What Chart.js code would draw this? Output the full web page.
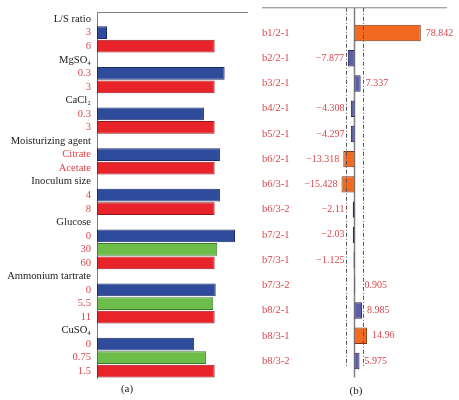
<!DOCTYPE html>
<html>
<head>
<meta charset="utf-8">
<script src="https://cdn.jsdelivr.net/npm/chart.js@4"></script>
<style>
  body { margin: 0; background: #fff; }
  #wrap { position: relative; width: 459px; height: 400px; font-family: 'Liberation Serif', serif; }
  #left { position: absolute; left: 0; top: 0; width: 250px; height: 400px; }
  #right { position: absolute; left: 250px; top: 0; width: 209px; height: 400px; }
  .cap { position: absolute; font-size: 11px; line-height: 12px; color: #222; transform: translateX(-50%); }
</style>
</head>
<body>
<div id="wrap">
  <div id="left"><canvas id="factorChart"></canvas></div>
  <div id="right"><canvas id="effectChart"></canvas></div>
  <div class="cap" style="left:127px; top:382px">(a)</div>
  <div class="cap" style="left:356px; top:384px">(b)</div>
</div>
<script>
// (a) relative response per factor level (red level = 100)
var factorNames = ['L/S ratio', 'MgSO₄', 'CaCl₂', 'Moisturizing agent', 'Inoculum size', 'Glucose', 'Ammonium tartrate', 'CuSO₄'];
var levelLabels = [['3', '6'], ['0.3', '3'], ['0.3', '3'], ['Citrate', 'Acetate'], ['4', '8'], ['0', '30', '60'], ['0', '5.5', '11'], ['0', '0.75', '1.5']];
var levelValues = [[8.5, 100], [108.5, 100], [90.9, 100], [104.5, 100], [104.5, 100], [117.3, 102.2, 100], [100.9, 98.8, 100], [82.6, 92.8, 100]];

// (b) effects
var effectLabels = ['b1/2-1', 'b2/2-1', 'b3/2-1', 'b4/2-1', 'b5/2-1', 'b6/2-1', 'b6/3-1', 'b6/3-2', 'b7/2-1', 'b7/3-1', 'b7/3-2', 'b8/2-1', 'b8/3-1', 'b8/3-2'];
var effectValues = [78.842, -7.877, 7.337, -4.308, -4.297, -13.318, -15.428, -2.11, -2.03, -1.125, 0.905, 8.985, 14.96, 5.975];
var significant = [true, false, false, false, false, true, true, false, false, false, false, false, true, false];
var threshold = 9.6;

var labelRed = '#d9474c';
var serif = 'Liberation Serif';
var levelFill = { low: '#2f4b9c', mid: '#6cbd4a', high: '#e8232a' };
var levelEdge = { low: '#1c2c63', mid: '#3f7a2e', high: '#8e1b1f' };

var rowLabels = [], rowValues = [], rowFill = [], rowEdge = [], rowHeading = [];
factorNames.forEach(function(name, f) {
  rowLabels.push(name);
  rowValues.push(null);
  rowFill.push('transparent');
  rowEdge.push('transparent');
  rowHeading.push(true);
  var n = levelLabels[f].length;
  levelLabels[f].forEach(function(lab, i) {
    var kind = i === 0 ? 'low' : (i === n - 1 ? 'high' : 'mid');
    rowLabels.push(lab);
    rowValues.push(levelValues[f][i]);
    rowFill.push(levelFill[kind]);
    rowEdge.push(levelEdge[kind]);
    rowHeading.push(false);
  });
});

new Chart(document.getElementById('factorChart'), {
  type: 'bar',
  data: {
    labels: rowLabels,
    datasets: [{
      data: rowValues,
      backgroundColor: rowFill,
      borderColor: rowEdge,
      borderWidth: 1,
      borderSkipped: false,
      barPercentage: 0.94,
      categoryPercentage: 1
    }]
  },
  options: {
    indexAxis: 'y',
    responsive: true,
    maintainAspectRatio: false,
    animation: false,
    layout: { padding: { top: 7, bottom: 22, right: 3, left: 0 } },
    plugins: { legend: { display: false }, tooltip: { enabled: false } },
    scales: {
      x: {
        position: 'top', min: 0, max: 127.5,
        grid: { display: false, drawTicks: false },
        ticks: { display: false },
        border: { color: '#808080', width: 1 },
        afterFit: function(s) { s.height = 0; }
      },
      y: {
        grid: { display: false, drawTicks: false },
        border: { color: '#808080', width: 1 },
        ticks: {
          autoSkip: false, padding: 6,
          color: function(c) { return rowHeading[c.index] ? '#1a1a1a' : labelRed; },
          font: { family: serif, size: 10.6 }
        },
        afterFit: function(s) { s.width = 97; }
      }
    }
  }
});

function fmt(v) {
  return (v < 0 ? '\u2212' : '') + Math.abs(v);
}

var effectLines = {
  id: 'effectLines',
  beforeDatasetsDraw: function(chart) {
    var ctx = chart.ctx, area = chart.chartArea, x = chart.scales.x, y = chart.scales.y;
    var top = y.getPixelForValue(-1);
    var x0 = x.getPixelForValue(0);
    ctx.save();
    ctx.strokeStyle = '#808080';
    ctx.lineWidth = 1;
    ctx.beginPath();
    ctx.moveTo(area.left, top);
    ctx.lineTo(area.right, top);
    ctx.stroke();
    ctx.lineWidth = 1.5;
    ctx.beginPath();
    ctx.moveTo(x0, top);
    ctx.lineTo(x0, area.bottom + 4);
    ctx.stroke();
    ctx.restore();
  },
  afterDatasetsDraw: function(chart) {
    var ctx = chart.ctx, area = chart.chartArea, x = chart.scales.x, y = chart.scales.y;
    var top = y.getPixelForValue(-1);
    var posLimit = x.getPixelForValue(threshold);
    var negLimit = x.getPixelForValue(-threshold);
    ctx.save();
    ctx.strokeStyle = '#555';
    ctx.lineWidth = 1;
    ctx.setLineDash([4, 2, 1, 2]);
    [negLimit, posLimit].forEach(function(px) {
      ctx.beginPath();
      ctx.moveTo(Math.round(px) + 0.5, top);
      ctx.lineTo(Math.round(px) + 0.5, area.bottom - 6);
      ctx.stroke();
    });
    ctx.setLineDash([]);
    ctx.font = '10px "' + serif + '"';
    ctx.fillStyle = labelRed;
    ctx.textBaseline = 'middle';
    chart.getDatasetMeta(0).data.forEach(function(bar, i) {
      var v = effectValues[i];
      if (v >= 0) {
        ctx.textAlign = 'left';
        ctx.fillText(fmt(v), Math.max(bar.x + 5, posLimit + 2), bar.y);
      } else {
        ctx.textAlign = 'right';
        ctx.fillText(fmt(v), Math.min(bar.x - 4, negLimit - 2), bar.y);
      }
    });
    ctx.restore();
  }
};

new Chart(document.getElementById('effectChart'), {
  type: 'bar',
  data: {
    labels: effectLabels,
    datasets: [{
      data: effectValues,
      backgroundColor: significant.map(function(s) { return s ? '#f26a22' : '#5b5ea8'; }),
      borderColor: significant.map(function(s) { return s ? '#7a3a1a' : '#2a2c5c'; }),
      borderWidth: 1,
      borderSkipped: false,
      barPercentage: 0.65,
      categoryPercentage: 1
    }]
  },
  options: {
    indexAxis: 'y',
    responsive: true,
    maintainAspectRatio: false,
    animation: false,
    layout: { padding: { left: 12, right: 12, top: 20.4, bottom: 26.4 } },
    plugins: { legend: { display: false }, tooltip: { enabled: false } },
    scales: {
      x: { display: false, min: -110, max: 110 },
      y: {
        grid: { display: false, drawTicks: false },
        border: { display: false },
        ticks: {
          mirror: true, padding: 0, autoSkip: false,
          color: labelRed,
          font: { family: serif, size: 10.6 }
        },
        afterFit: function(s) { s.width = 0; }
      }
    }
  },
  plugins: [effectLines]
});
</script>
</body>
</html>
